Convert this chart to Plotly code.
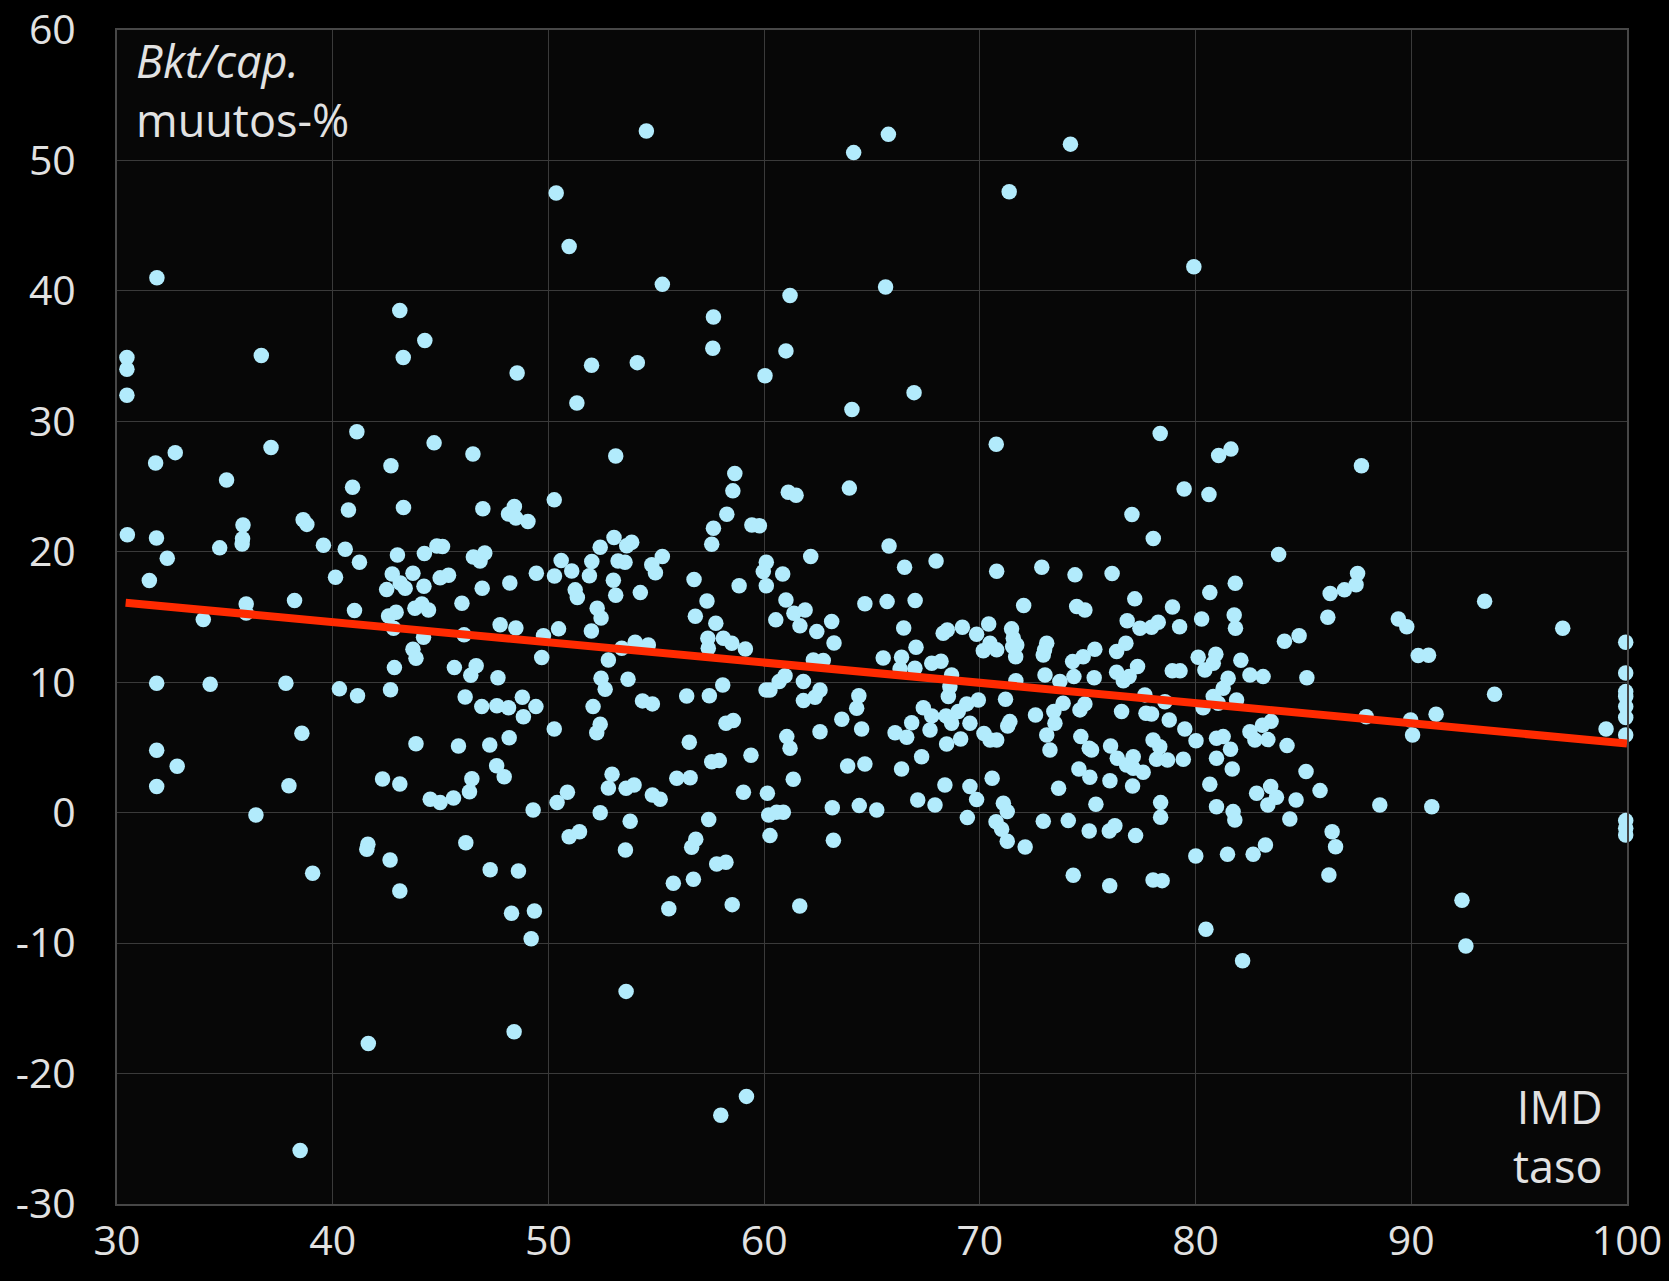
import plotly.graph_objects as go

# ---------------- data ----------------
imd_level = [
    # upper region
    30.46, 30.46, 30.46, 31.85, 36.69, 43.11, 44.27, 43.27,
    54.54, 64.15, 50.36, 50.96, 55.28, 61.2, 57.65, 57.62, 61.01, 48.55,
    52.0, 54.12, 60.04, 51.32, 64.07, 65.63,
    65.76, 74.2, 71.36, 79.92, 66.95,
    # 30-48, 0-30
    41.12, 44.70, 46.5, 32.7, 31.79, 37.14, 35.08, 42.7, 40.92, 43.28,
    46.96, 40.73, 30.48, 31.83, 35.84, 35.82, 35.8, 38.63, 38.8, 34.76,
    39.57, 40.58, 32.33, 41.24, 43.0, 44.25, 44.83, 45.09, 46.52, 46.83,
    47.05, 31.5, 40.13, 42.76, 43.72, 42.5, 43.13, 43.36, 44.23, 44.98,
    45.37, 46.93, 38.23, 35.99, 35.99, 34.0, 41.01, 45.99, 42.59, 42.94,
    42.82, 43.81, 44.13, 44.44, 44.21, 46.09, 47.76, 43.72, 43.86, 42.86,
    45.64, 46.65, 46.4, 47.66, 31.84, 34.32, 37.83, 40.31, 41.15, 42.68,
    46.14, 46.91, 47.61, 38.57, 31.84, 32.79, 31.84, 37.97, 43.86, 45.83,
    47.28, 47.6, 42.31, 43.11, 46.45, 46.34, 44.52, 44.98, 45.6,
    # 30-48, below 0
    36.44, 39.07, 41.63, 41.58, 42.66, 43.11, 46.17, 47.3, 41.65, 38.49,
    # 48-66, below 0
    49.29, 50.4, 52.4, 53.79, 50.96, 51.44, 53.57, 48.61, 48.29, 49.35,
    49.2, 53.6, 48.41, 57.43, 56.83, 56.64, 57.8, 58.23, 55.79, 56.72,
    55.58, 58.52, 61.65, 60.27, 60.21, 60.58, 60.89, 63.16, 63.21, 64.41,
    65.22, 59.18, 57.99,
    # 66-83, below 0
    67.12, 67.92, 69.42, 69.85, 70.75, 71.01, 71.27, 71.09, 71.27, 72.1,
    72.94, 74.1, 75.07, 76.0, 76.26, 75.38, 77.22, 78.38, 78.38, 74.33,
    76.02, 78.03, 78.45, 80.01, 81.48, 82.67, 80.48, 82.18, 80.97, 81.74, 81.82,
    # 83-100, below 0
    83.24, 84.37, 86.33, 86.49, 86.18, 92.35, 92.53, 99.94, 99.94, 99.94,
    # 83-100, above 0
    87.69, 83.85, 87.51, 87.44, 86.9, 86.24, 86.13, 93.4, 97.02, 89.4,
    89.79, 90.32, 90.8, 84.8, 84.12, 83.13, 85.16, 99.94, 99.94, 99.94,
    99.94, 99.94, 99.94, 99.94, 99.03, 93.86, 87.91, 89.97, 90.06, 91.15,
    83.1, 83.5, 83.35, 84.24, 85.12, 85.77, 82.83, 83.48, 83.75, 84.66,
    83.35, 88.54, 90.95,
    # 48-66, above 0
    53.12, 58.64, 58.55, 63.95, 61.12, 61.48, 50.27, 48.42, 48.15, 48.49,
    49.05, 58.27, 57.65, 57.57, 59.43, 59.78, 53.04, 53.63, 53.86, 52.4,
    50.59, 51.08, 52.01, 51.9, 53.23, 53.55, 55.28, 54.79, 54.96, 49.44,
    50.28, 48.21, 53.01, 53.12, 51.24, 51.34, 54.26, 56.75, 58.84, 57.35,
    56.81, 57.76, 52.26, 52.44, 51.99, 48.49, 50.47, 49.77, 49.69, 52.78,
    53.4, 54.02, 54.63, 52.44, 52.63, 53.69, 57.39, 57.41, 58.11, 58.5,
    59.13, 60.1, 59.96, 60.1, 60.86, 62.16, 61.01, 61.38, 61.9, 60.54,
    61.66, 62.44, 63.13, 63.24, 64.67, 62.28, 62.74, 60.7, 60.97, 60.27,
    60.09, 61.82, 62.59, 62.36, 61.82, 64.39, 64.29, 63.6, 62.59, 64.52,
    63.87, 64.67, 61.35, 60.15, 59.04, 56.41, 57.46, 58.08, 54.36, 54.82,
    52.07, 52.4, 52.24, 50.27, 48.79, 49.42, 48.84, 48.15, 48.18, 47.95,
    50.88, 52.95, 52.78, 53.6, 53.97, 54.82, 55.18, 56.53, 55.95, 56.57,
    57.57, 57.92, 59.39, 58.23, 58.57, 61.05, 61.2,
    # 65-83, above 0
    70.76, 78.36, 81.07, 81.64, 79.47, 80.62, 77.05, 78.04, 65.79, 66.51,
    67.97, 70.78, 72.87, 74.41, 76.13, 80.66, 81.84, 65.7, 67.0, 72.03,
    74.49, 74.87, 77.18, 78.93, 80.28, 81.79, 81.85, 66.47, 68.3, 68.49,
    69.19, 69.85, 70.41, 71.47, 71.55, 71.71, 71.66, 71.52, 70.16, 70.47,
    70.78, 73.1, 72.94, 73.0, 76.83, 77.42, 77.96, 78.27, 79.26, 67.04,
    65.52, 66.37, 67.77, 68.2, 66.99, 66.3, 68.69, 71.67, 73.02, 73.71,
    74.36, 74.3, 74.79, 75.33, 76.34, 76.77, 75.3, 76.34, 76.65, 76.92,
    77.31, 78.92, 79.28, 80.12, 80.43, 80.94, 80.82, 82.1, 82.52, 81.51,
    81.28, 80.82, 81.05, 81.9, 80.35, 77.65, 78.58, 77.7, 77.96, 76.57,
    78.78, 79.5, 80.02, 82.52, 82.75, 80.97, 81.28, 81.62, 80.97, 81.7,
    80.66, 78.03, 78.34, 78.19, 78.7, 79.43, 76.06, 76.37, 77.11, 76.8,
    77.57, 77.11, 77.08, 76.03, 74.68, 75.07, 75.18, 74.59, 75.1, 73.65,
    73.43, 73.86, 73.48, 73.1, 73.25, 74.64, 74.87, 72.58, 71.19, 71.39,
    71.29, 70.19, 70.47, 70.78, 70.57, 69.54, 68.38, 66.37, 67.3, 68.46,
    69.11, 69.54, 66.07, 66.61, 66.84, 67.38, 67.77, 67.69, 68.43, 68.69,
    69.0, 69.39, 69.93, 68.54, 68.61,
]

gdp_change = [
    # upper region
    34.9, 34.0, 32.0, 41.0, 35.05, 38.5, 36.2, 34.9,
    52.25, 50.6, 47.5, 43.4, 40.5, 39.65, 38.0, 35.6, 35.4, 33.7,
    34.3, 34.5, 33.5, 31.4, 30.9, 40.3,
    52.0, 51.25, 47.6, 41.85, 32.2,
    # 30-48, 0-30
    29.2, 28.35, 27.5, 27.6, 26.8, 28.0, 25.5, 26.6, 24.95, 23.4,
    23.3, 23.2, 21.3, 21.05, 22.06, 21.0, 20.6, 22.45, 22.1, 20.3,
    20.5, 20.2, 19.5, 19.2, 19.76, 19.86, 20.45, 20.4, 19.6, 19.3,
    19.9, 17.8, 18.05, 18.3, 18.35, 17.1, 17.6, 17.2, 17.35, 18.0,
    18.2, 17.2, 16.26, 16.0, 15.3, 14.8, 15.5, 16.06, 15.08, 15.37,
    14.14, 15.67, 16.0, 15.54, 13.45, 13.63, 14.4, 12.53, 11.84, 11.12,
    11.12, 11.27, 10.54, 10.35, 9.92, 9.85, 9.92, 9.49, 8.97, 9.43,
    8.87, 8.13, 8.2, 6.09, 4.79, 3.56, 2.0, 2.07, 5.29, 5.11,
    5.19, 3.6, 2.58, 2.2, 2.6, 1.6, 1.03, 0.77, 1.13,
    # 30-48, below 0
    -0.18, -4.65, -2.42, -2.8, -3.63, -6.0, -2.3, -4.37, -17.7, -25.9,
    # 48-66, below 0
    0.2, 0.77, 0.0, -0.66, -1.84, -1.46, -2.86, -4.47, -7.71, -7.54,
    -9.66, -13.7, -16.8, -0.53, -2.04, -2.65, -3.93, -3.8, -5.41, -5.1,
    -7.36, -7.05, -7.15, -1.76, -0.18, 0.03, 0.03, 0.38, -2.12, 0.54,
    0.2, -21.75, -23.2,
    # 66-83, below 0
    0.97, 0.59, -0.38, 1.0, -0.69, -1.27, -2.19, 0.72, 0.08, -2.63,
    -0.66, -0.61, -1.4, -1.4, -1.0, 0.64, -1.76, -0.35, 0.77, -4.8,
    -5.6, -5.16, -5.21, -3.32, -3.19, -3.19, -8.94, -11.35, 0.46, 0.08, -0.56,
    # 83-100, below 0
    -2.48, -0.48, -1.46, -2.61, -4.78, -6.72, -10.22, -0.61, -1.2, -1.71,
    # 83-100, above 0
    26.6, 19.8, 18.33, 17.48, 17.08, 16.8, 14.98, 16.2, 14.14, 14.85,
    14.26, 12.04, 12.07, 13.57, 13.14, 10.43, 10.35, 13.07, 10.71, 9.28,
    8.9, 8.13, 7.29, 5.96, 6.42, 9.08, 7.36, 7.11, 5.96, 7.55,
    6.7, 7.0, 5.6, 5.14, 3.15, 1.69, 1.49, 2.0, 1.18, 0.97,
    0.59, 0.59, 0.46,
    # 48-66, above 0
    27.35, 26.0, 24.67, 24.88, 24.57, 24.34, 23.98, 23.47, 22.9, 22.58,
    22.32, 22.88, 21.8, 20.58, 22.06, 22.0, 21.09, 20.47, 20.73, 20.35,
    19.33, 18.53, 19.25, 18.17, 19.3, 19.2, 19.63, 19.0, 18.4, 18.36,
    18.15, 17.6, 17.82, 16.67, 17.08, 16.5, 16.87, 17.87, 17.4, 16.23,
    15.06, 14.52, 15.67, 14.93, 13.93, 14.16, 14.09, 13.57, 11.89, 11.71,
    12.61, 13.07, 12.86, 10.31, 9.46, 10.23, 13.37, 12.61, 13.37, 12.99,
    12.55, 19.2, 18.48, 17.39, 18.3, 19.63, 16.31, 15.29, 15.54, 14.78,
    14.32, 13.88, 14.65, 13.01, 16.01, 11.71, 11.66, 10.05, 10.5, 9.41,
    9.41, 10.05, 9.41, 8.85, 8.59, 8.97, 8.0, 7.16, 6.21, 6.42,
    3.58, 3.73, 2.56, 1.49, 1.56, 8.95, 8.97, 9.79, 8.57, 8.34,
    8.13, 6.78, 6.13, 6.42, 8.85, 8.13, 7.36, 8.05, 5.75, 2.76,
    1.56, 2.94, 1.89, 1.87, 2.12, 1.36, 1.03, 5.4, 2.64, 2.68,
    3.91, 3.99, 4.4, 6.86, 7.06, 5.83, 4.94,
    # 65-83, above 0
    28.25, 29.06, 27.38, 27.87, 24.82, 24.39, 22.85, 21.01, 20.45, 18.82,
    19.3, 18.51, 18.82, 18.23, 18.33, 16.87, 17.59, 16.18, 16.26, 15.88,
    15.8, 15.54, 16.39, 15.77, 14.85, 15.16, 14.14, 14.16, 13.76, 14.01,
    14.22, 13.68, 14.47, 14.09, 13.37, 12.86, 11.96, 12.73, 12.42, 12.99,
    12.48, 12.99, 12.09, 12.48, 14.72, 14.14, 14.22, 14.6, 14.26, 12.68,
    11.86, 11.91, 11.46, 11.61, 11.07, 11.02, 10.56, 10.12, 10.56, 10.05,
    10.43, 11.58, 11.96, 12.53, 12.35, 12.99, 10.35, 10.77, 10.12, 10.43,
    11.2, 10.87, 10.87, 11.92, 10.94, 12.15, 11.46, 11.69, 10.56, 10.31,
    9.54, 8.9, 8.39, 8.64, 8.05, 9.03, 8.51, 7.62, 7.57, 7.75,
    7.11, 6.42, 5.52, 6.21, 5.57, 5.71, 5.83, 4.86, 4.17, 3.35,
    2.18, 5.57, 5.06, 4.09, 4.04, 4.09, 5.11, 4.17, 4.29, 3.66,
    3.1, 3.4, 2.05, 2.45, 5.83, 4.94, 4.81, 3.35, 2.71, 1.87,
    7.75, 8.39, 6.86, 5.96, 4.81, 7.88, 8.34, 7.49, 8.7, 6.98,
    6.65, 6.07, 5.57, 5.57, 2.64, 2.0, 2.12, 3.35, 4.29, 5.27,
    5.65, 6.86, 6.13, 5.78, 6.9, 8.05, 7.42, 6.34, 7.42, 6.86,
    7.75, 8.34, 8.64, 8.9, 9.66,
]

# linear trend line (start / end)
trend_x = [30.4, 100.0]
trend_y = [16.1, 5.3]

x_ticks = [30, 40, 50, 60, 70, 80, 90, 100]
x_tick_labels = ["30", "40", "50", "60", "70", "80", "90", "100"]
y_ticks = [-30, -20, -10, 0, 10, 20, 30, 40, 50, 60]
y_tick_labels = ["-30", "-20", "-10", "0", "10", "20", "30", "40", "50", "60"]

y_title = "<i>Bkt/cap.</i><br>muutos-%"
x_title = "IMD<br>taso"

# ---------------- figure ----------------
FONT = "Open Sans, Noto Sans, DejaVu Sans, sans-serif"
TXT = "#E2E2E2"
GRID = "#3A3A3A"
FRAME = "#474747"

fig = go.Figure()
fig.add_trace(go.Scatter(
    x=imd_level, y=gdp_change, mode="markers",
    marker=dict(size=15.5, color="#B2EBFC", line=dict(width=0)),
    cliponaxis=False, hoverinfo="x+y",
))
fig.add_trace(go.Scatter(
    x=trend_x, y=trend_y, mode="lines",
    line=dict(color="#FF2A00", width=8),
    cliponaxis=False, hoverinfo="skip",
))

axis_common = dict(
    showgrid=True, gridcolor=GRID, gridwidth=1.3,
    showline=True, linecolor=FRAME, linewidth=2, mirror=True,
    zeroline=False, ticks="", automargin=False,
    tickfont=dict(family=FONT, size=41, color=TXT),
)

fig.update_layout(
    width=1669, height=1281,
    paper_bgcolor="#000000", plot_bgcolor="#070707",
    margin=dict(l=117, r=42, t=30, b=77, autoexpand=False),
    showlegend=False,
    xaxis=dict(range=[30, 100], tickvals=x_ticks, ticktext=x_tick_labels,
               ticklabelstandoff=0, **axis_common),
    yaxis=dict(range=[-30, 60], tickvals=y_ticks, ticktext=y_tick_labels,
               ticklabelstandoff=31, **axis_common),
)

ann_font = dict(family=FONT, size=45, color=TXT)
fig.add_annotation(x=30.8, y=55.4, xref="x", yref="y", text=y_title,
                   showarrow=False, xanchor="left", yanchor="middle",
                   align="left", font=ann_font)
fig.add_annotation(x=98.97, y=-24.75, xref="x", yref="y", text=x_title,
                   showarrow=False, xanchor="right", yanchor="middle",
                   align="right", font=ann_font)

fig.write_html(
    "out.html",
    config={"displayModeBar": False},
    post_script="document.body.style.margin='0';document.body.style.background='#000';",
)
